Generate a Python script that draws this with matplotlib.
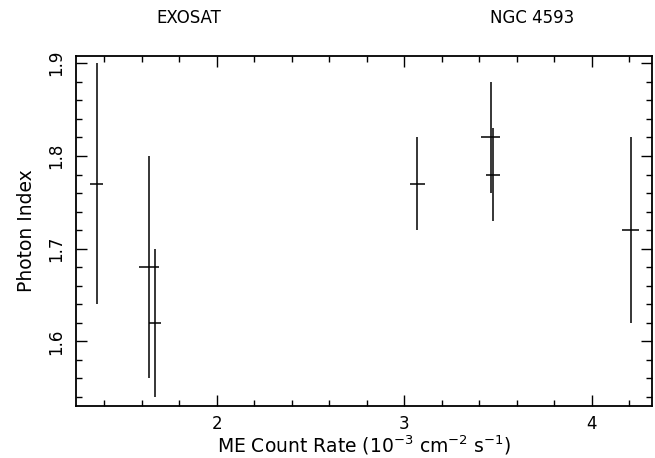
import numpy as np
import matplotlib
matplotlib.use("Agg")
import matplotlib.pyplot as plt
from matplotlib.ticker import MultipleLocator

# data
rate = [1.36, 1.638, 1.671, 3.07, 3.461, 3.472, 4.208]
rate_err = [0.035, 0.053, 0.032, 0.04, 0.05, 0.038, 0.044]
index = [1.77, 1.68, 1.62, 1.77, 1.82, 1.78, 1.72]
index_lo = [1.64, 1.56, 1.54, 1.72, 1.76, 1.73, 1.62]
index_hi = [1.90, 1.80, 1.70, 1.82, 1.88, 1.83, 1.82]

yerr = np.array([np.array(index) - np.array(index_lo),
                 np.array(index_hi) - np.array(index)])

fig = plt.figure(figsize=(6.55, 4.58), dpi=100)
ax = fig.add_axes([0.116, 0.113, 0.879, 0.765])

ax.errorbar(rate, index, xerr=rate_err, yerr=yerr, fmt='none',
            ecolor='black', elinewidth=1.1, capsize=0)

ax.set_xlim(1.25, 4.32)
ax.set_ylim(1.530, 1.908)
ax.xaxis.set_major_locator(MultipleLocator(1))
ax.xaxis.set_minor_locator(MultipleLocator(0.2))
ax.yaxis.set_major_locator(MultipleLocator(0.1))
ax.yaxis.set_minor_locator(MultipleLocator(0.02))
ax.tick_params(which='both', direction='in', top=True, right=True,
               width=1, labelsize=12)
ax.tick_params(which='major', length=8)
ax.tick_params(which='minor', length=4)
ax.tick_params(axis='y', which='major', pad=8)
ax.tick_params(axis='x', which='major', pad=6)
ax.set_yticks([1.6, 1.7, 1.8, 1.9])
ax.set_yticklabels(['1.6', '1.7', '1.8', '1.9'], rotation=90, va='center')
for s in ax.spines.values():
    s.set_linewidth(1.3)

ax.set_xlabel(r'ME Count Rate (10$^{-3}$ cm$^{-2}$ s$^{-1}$)', fontsize=13.5, labelpad=1)
ax.set_ylabel('Photon Index', fontsize=13.5, labelpad=8)

fig.text(0.288, 0.961, 'EXOSAT', ha='center', va='center', fontsize=12)
fig.text(0.812, 0.961, 'NGC 4593', ha='center', va='center', fontsize=12)

fig.savefig('out.png', dpi=100)
